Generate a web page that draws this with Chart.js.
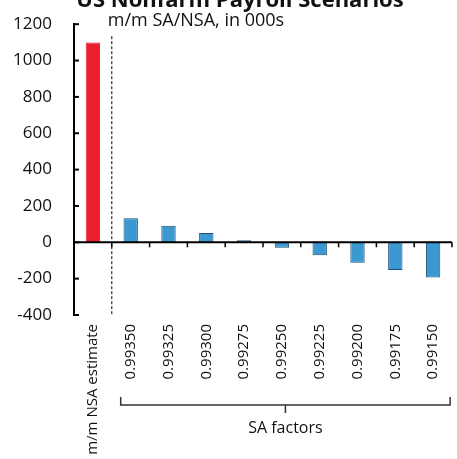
<!DOCTYPE html>
<html>
<head>
<meta charset="utf-8">
<script src="https://cdn.jsdelivr.net/npm/chart.js@4"></script>
<style>
  html, body { margin: 0; padding: 0; background: #fff; }
  #wrap { width: 457px; height: 459px; position: relative; }
</style>
</head>
<body>
<div id="wrap"><canvas id="grafico"></canvas></div>
<script>
// dados do gráfico
const categorias = ['m/m NSA estimate', '0.99350', '0.99325', '0.99300', '0.99275', '0.99250', '0.99225', '0.99200', '0.99175', '0.99150'];
const valores = [1100, 132, 91, 51, 11, -30, -71, -112, -152, -193];
const ticksY = [-400, -200, 0, 200, 400, 600, 800, 1000, 1200];
const titulo = 'US Nonfarm Payroll Scenarios';
const subtitulo = 'm/m SA/NSA, in 000s';
const grupo = 'SA factors';

const corFundo = valores.map((v, i) => i === 0 ? '#ED1C2E' : '#3B98D0');
const corBorda = valores.map((v, i) => i === 0 ? '#ED1C2E' : '#1F4E7A');

// desenha eixo zero, marcas, linha tracejada, chave e textos
const extras = {
    id: 'extras',
    afterDraw(chart) {
        const { ctx, chartArea, scales } = chart;
        const x = scales.x, y = scales.y;
        const y0 = y.getPixelForValue(0);
        ctx.save();
        ctx.strokeStyle = '#000';

        // linha do zero
        ctx.lineWidth = 2;
        ctx.beginPath();
        ctx.moveTo(chartArea.left, y0);
        ctx.lineTo(chartArea.right, y0);
        ctx.stroke();

        // marcas do eixo x (para baixo)
        ctx.lineWidth = 1.5;
        for (let k = 1; k <= categorias.length; k++) {
            const px = x.getPixelForValue(k - 0.5);
            ctx.beginPath();
            ctx.moveTo(px, y0);
            ctx.lineTo(px, y0 + 5);
            ctx.stroke();
        }

        // marcas do eixo y (para dentro)
        ctx.lineWidth = 2;
        ticksY.forEach(v => {
            const py = y.getPixelForValue(v);
            ctx.beginPath();
            ctx.moveTo(chartArea.left, py);
            ctx.lineTo(chartArea.left + 5, py);
            ctx.stroke();
        });

        // linha tracejada
        const xd = x.getPixelForValue(0.5);
        ctx.lineWidth = 1;
        ctx.setLineDash([3, 2]);
        ctx.beginPath();
        ctx.moveTo(xd, chartArea.top + 12);
        ctx.lineTo(xd, chartArea.bottom);
        ctx.stroke();
        ctx.setLineDash([]);

        // chave
        const xa = x.getPixelForValue(1) - 10;
        const xb = x.getPixelForValue(categorias.length - 1) + 17;
        const xm = (xa + xb) / 2;
        const yc = 405;
        ctx.strokeStyle = '#333';
        ctx.lineWidth = 1.5;
        ctx.beginPath();
        ctx.moveTo(xa, yc - 8);
        ctx.lineTo(xa, yc);
        ctx.lineTo(xb, yc);
        ctx.lineTo(xb, yc - 8);
        ctx.moveTo(xm, yc);
        ctx.lineTo(xm, yc + 8);
        ctx.stroke();

        // textos
        ctx.fillStyle = '#111';
        ctx.font = '16px "Open Sans"';
        ctx.textAlign = 'center';
        ctx.textBaseline = 'middle';
        ctx.fillText(grupo, xm, 428);

        ctx.textAlign = 'left';
        ctx.font = '18px "Open Sans"';
        ctx.fillText(subtitulo, xd - 4, 21);

        ctx.textAlign = 'center';
        ctx.textBaseline = 'alphabetic';
        ctx.font = 'bold 22px "Open Sans"';
        ctx.fillText(titulo, 240, 7);
        ctx.restore();
    }
};

new Chart(document.getElementById('grafico').getContext('2d'), {
    type: 'bar',
    data: {
        labels: categorias,
        datasets: [{
            data: valores,
            backgroundColor: corFundo,
            borderColor: corBorda,
            borderWidth: 1,
            categoryPercentage: 1,
            barPercentage: 0.38
        }]
    },
    options: {
        responsive: true,
        maintainAspectRatio: false,
        animation: false,
        layout: { padding: { top: 21, right: 5, left: 0, bottom: 0 } },
        plugins: { legend: { display: false }, tooltip: { enabled: false } },
        scales: {
            x: {
                grid: { display: false },
                border: { display: false },
                ticks: {
                    minRotation: 90,
                    maxRotation: 90,
                    autoSkip: false,
                    padding: 1,
                    color: '#111',
                    font: { family: '"Open Sans"', size: 15 }
                },
                afterFit: s => { s.height = 144; }
            },
            y: {
                min: -400,
                max: 1200,
                grid: { display: false },
                border: { display: true, color: '#000', width: 2 },
                ticks: {
                    stepSize: 200,
                    padding: 14,
                    color: '#111',
                    font: { family: '"Open Sans"', size: 17 },
                    callback: v => String(v)
                },
                afterFit: s => { s.width = 74; }
            }
        }
    },
    plugins: [extras]
});
</script>
</body>
</html>
